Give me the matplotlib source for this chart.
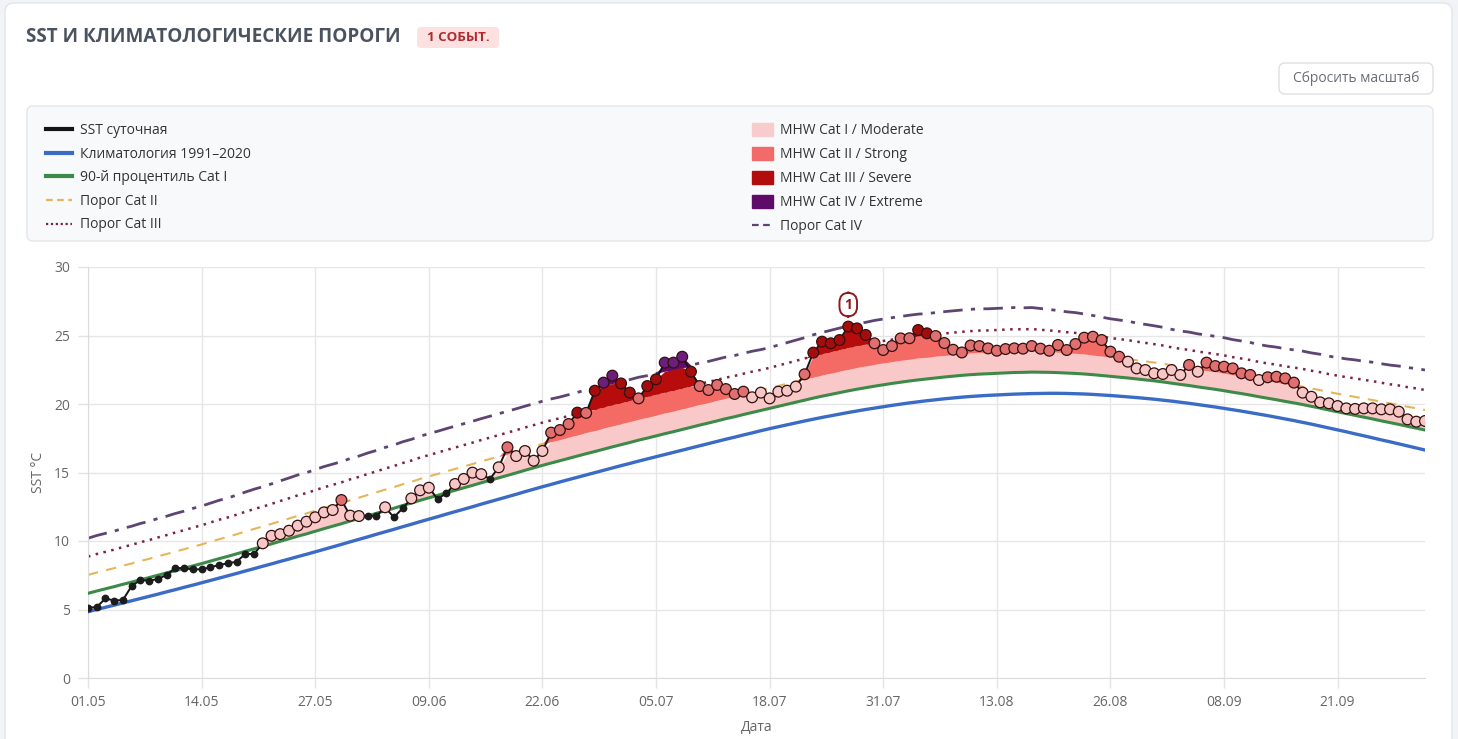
import numpy as np
import pandas as pd
import matplotlib
matplotlib.use("Agg")
import matplotlib.pyplot as plt
import matplotlib.dates as mdates
from matplotlib.patches import FancyBboxPatch, Patch
from matplotlib.lines import Line2D

plt.rcParams["font.family"] = ["Open Sans", "DejaVu Sans"]

# ---- data (daily, 01.05 - 01.10) ----
start_date = "2024-05-01"

sst = [5.13, 5.18, 5.81, 5.65, 5.70, 6.72, 7.15, 7.10, 7.23, 7.52,
       8.05, 8.00, 7.93, 7.93, 8.08, 8.25, 8.37, 8.49, 9.05, 9.05,
       9.83, 10.38, 10.50, 10.75, 11.12, 11.41, 11.73, 12.09, 12.26, 12.99,
       11.85, 11.82, 11.82, 11.82, 12.46, 11.73, 12.38, 13.11, 13.70, 13.89,
       13.07, 13.48, 14.16, 14.53, 14.99, 14.88, 14.53, 15.38, 16.84, 16.20,
       16.57, 15.86, 16.57, 17.91, 18.10, 18.54, 19.37, 19.35, 20.97, 21.56,
       22.07, 21.50, 20.83, 20.41, 21.31, 21.80, 23.02, 23.02, 23.45, 22.36,
       21.31, 21.02, 21.39, 21.09, 20.73, 20.90, 20.49, 20.83, 20.41, 20.90,
       20.97, 21.27, 22.17, 23.75, 24.55, 24.43, 24.67, 25.65, 25.52, 25.04,
       24.43, 23.94, 24.23, 24.79, 24.80, 25.40, 25.16, 24.96, 24.45, 23.96,
       23.76, 24.27, 24.23, 24.06, 23.89, 24.01, 24.06, 24.04, 24.23, 24.04,
       23.89, 24.31, 23.94, 24.38, 24.84, 24.91, 24.67, 23.82, 23.45, 23.09,
       22.60, 22.48, 22.24, 22.19, 22.48, 22.12, 22.85, 22.36, 23.02, 22.77,
       22.72, 22.60, 22.24, 22.12, 21.75, 21.95, 21.99, 21.87, 21.56, 20.83,
       20.53, 20.12, 20.05, 19.85, 19.68, 19.64, 19.68, 19.68, 19.61, 19.61,
       19.44, 18.88, 18.71, 18.76]

clim = [4.84, 5.00, 5.16, 5.32, 5.48, 5.64, 5.80, 5.96, 6.12, 6.29,
        6.45, 6.62, 6.78, 6.95, 7.12, 7.29, 7.46, 7.63, 7.81, 7.98,
        8.16, 8.33, 8.51, 8.68, 8.86, 9.03, 9.21, 9.39, 9.57, 9.75,
        9.94, 10.12, 10.30, 10.49, 10.67, 10.85, 11.04, 11.22, 11.41, 11.59,
        11.77, 11.96, 12.14, 12.32, 12.50, 12.69, 12.87, 13.05, 13.23, 13.41,
        13.60, 13.78, 13.96, 14.13, 14.31, 14.48, 14.65, 14.82, 14.99, 15.16,
        15.33, 15.50, 15.66, 15.83, 15.99, 16.15, 16.31, 16.47, 16.63, 16.79,
        16.95, 17.11, 17.27, 17.43, 17.58, 17.74, 17.89, 18.05, 18.20, 18.34,
        18.48, 18.62, 18.76, 18.89, 19.02, 19.14, 19.26, 19.38, 19.49, 19.60,
        19.70, 19.80, 19.90, 19.99, 20.08, 20.16, 20.24, 20.31, 20.38, 20.44,
        20.50, 20.55, 20.59, 20.63, 20.66, 20.69, 20.72, 20.74, 20.76, 20.77,
        20.78, 20.78, 20.77, 20.75, 20.73, 20.70, 20.66, 20.62, 20.57, 20.52,
        20.47, 20.41, 20.35, 20.28, 20.21, 20.13, 20.05, 19.96, 19.87, 19.78,
        19.68, 19.58, 19.48, 19.37, 19.26, 19.15, 19.03, 18.91, 18.79, 18.66,
        18.53, 18.39, 18.25, 18.11, 17.97, 17.82, 17.68, 17.53, 17.38, 17.24,
        17.09, 16.94, 16.79, 16.64]

p90 = [6.18, 6.35, 6.51, 6.67, 6.84, 7.00, 7.17, 7.33, 7.50, 7.67,
       7.84, 8.01, 8.18, 8.35, 8.53, 8.71, 8.88, 9.06, 9.25, 9.43,
       9.61, 9.79, 9.98, 10.16, 10.35, 10.52, 10.71, 10.90, 11.08, 11.26,
       11.46, 11.64, 11.83, 12.02, 12.21, 12.39, 12.59, 12.77, 12.97, 13.15,
       13.33, 13.52, 13.70, 13.88, 14.06, 14.25, 14.43, 14.61, 14.79, 14.97,
       15.16, 15.34, 15.52, 15.69, 15.86, 16.03, 16.20, 16.37, 16.53, 16.70,
       16.87, 17.03, 17.19, 17.36, 17.51, 17.67, 17.83, 17.98, 18.14, 18.30,
       18.46, 18.61, 18.77, 18.93, 19.07, 19.23, 19.38, 19.53, 19.68, 19.83,
       19.98, 20.13, 20.28, 20.43, 20.57, 20.70, 20.83, 20.96, 21.08, 21.19,
       21.30, 21.40, 21.50, 21.59, 21.68, 21.76, 21.83, 21.90, 21.97, 22.03,
       22.09, 22.14, 22.18, 22.21, 22.24, 22.27, 22.30, 22.31, 22.33, 22.32,
       22.31, 22.29, 22.26, 22.23, 22.19, 22.14, 22.08, 22.02, 21.96, 21.90,
       21.83, 21.76, 21.69, 21.61, 21.52, 21.43, 21.35, 21.25, 21.16, 21.07,
       20.97, 20.86, 20.76, 20.65, 20.53, 20.42, 20.31, 20.19, 20.08, 19.96,
       19.83, 19.70, 19.56, 19.43, 19.30, 19.17, 19.04, 18.91, 18.77, 18.64,
       18.51, 18.37, 18.24, 18.10]

# days flagged as heatwave days (coloured markers), as (first, last) day index
event_spans = [(20, 31), (34, 34), (37, 39), (42, 45), (47, 153)]

# ---- derived ----
dates = pd.date_range(start_date, periods=len(sst), freq="D")
sst = np.array(sst)
clim = np.array(clim)
p90 = np.array(p90)
# Hobday categories: clim + k * (p90 - clim)
cat2 = clim + 2 * (p90 - clim)
cat3 = clim + 3 * (p90 - clim)
cat4 = clim + 4 * (p90 - clim)

ev = np.zeros(len(sst), dtype=bool)
for a, b in event_spans:
    ev[a:b + 1] = True
evf = ev.copy()
evf[1:] |= ev[:-1]
evf[:-1] |= ev[1:]

cat = np.where(sst >= cat4, 4, np.where(sst >= cat3, 3, np.where(sst >= cat2, 2, 1)))

W, H = 1458, 739
fig = plt.figure(figsize=(W / 100, H / 100), dpi=100, facecolor="#f1f3f6")


def box(x, y, w, h, r, fc, ec, lw=1.0):
    p = FancyBboxPatch(((x) / 100, (H - y - h) / 100), w / 100, h / 100,
                       boxstyle="round,pad=0,rounding_size=%f" % (r / 100),
                       transform=fig.dpi_scale_trans, facecolor=fc,
                       edgecolor=ec, linewidth=lw, zorder=-5)
    fig.add_artist(p)


def text(x, y, s, **kw):
    fig.text(x / W, 1 - y / H, s, **kw)


box(5, 3, 1447, 760, 9, "white", "#e2e5ea")

text(26, 37, "SST И КЛИМАТОЛОГИЧЕСКИЕ ПОРОГИ", fontsize=13.6, fontweight="bold",
     color="#4b5360", va="center", ha="left")
box(417, 27, 82, 21, 4, "#fde1e1", "none")
text(458, 37.5, "1 СОБЫТ.", fontsize=9.6, fontweight="bold", color="#b02a30",
     va="center", ha="center")

box(1279, 63, 154, 31, 6, "white", "#dde0e5")
text(1356, 78.5, "Сбросить масштаб", fontsize=10, color="#6a6e75",
     va="center", ha="center")

box(27, 106, 1406, 135, 6, "#f8f9fa", "#e3e6ea")

# ---- plot ----
ax = fig.add_axes([88 / W, (H - 678) / H, (1425 - 88) / W, (678 - 267) / H])
ax.set_facecolor("white")

ax.plot(dates, cat4, color="#5e4473", lw=2.0, ls=(0, (7, 3, 1.5, 3)), zorder=2)
ax.plot(dates, cat3, color="#7a2342", lw=1.8, ls=(0, (1, 2.2)), zorder=2)
ax.plot(dates, cat2, color="#e6b55a", lw=1.5, ls=(0, (5, 4)), zorder=2)

ax.fill_between(dates, p90, np.clip(sst, p90, cat2), where=evf,
                color="#f9c8c8", lw=0, zorder=2.5)
ax.fill_between(dates, cat2, np.clip(sst, cat2, cat3), where=evf,
                color="#f46a64", lw=0, zorder=2.5)
ax.fill_between(dates, cat3, np.clip(sst, cat3, cat4), where=evf,
                color="#b70c0c", lw=0, zorder=2.5)
ax.fill_between(dates, cat4, np.maximum(sst, cat4), where=evf,
                color="#650b6e", lw=0, zorder=2.5)

ax.plot(dates, clim, color="#3a6cc6", lw=2.4, zorder=3)
ax.plot(dates, p90, color="#3c8a48", lw=2.2, zorder=3)

ax.plot(dates, sst, color="#151515", lw=1.4, zorder=5)
ax.plot(dates[~ev], sst[~ev], "o", ms=4.6, color="#1c1c1c", zorder=6)
mcol = {1: "#f6c7c7", 2: "#e06f6f", 3: "#a50d0d", 4: "#6b1e7c"}
ax.scatter(dates[ev], sst[ev], s=60, c=[mcol[k] for k in cat[ev]],
           edgecolors="#331010", linewidths=0.9, zorder=7)

# event label at its peak
ipk = int(np.argmax(np.where(ev, sst, -99)))
ax.annotate("1", (dates[ipk], sst[ipk]), xytext=(0, 22), textcoords="offset pixels",
            ha="center", va="center", fontsize=10, fontweight="bold", color="#8e1b1b",
            bbox=dict(boxstyle="round,pad=0.35,rounding_size=0.7", fc="white",
                      ec="#8e1b1b", lw=1.4), zorder=8)

ax.set_xlim(dates[0], dates[-1])
ax.set_ylim(0, 30)
ax.set_yticks(range(0, 31, 5))
ax.set_xticks(dates[::13])
ax.xaxis.set_major_formatter(mdates.DateFormatter("%d.%m"))
ax.grid(color="#e6e6e6", lw=1)
ax.set_axisbelow(True)
ax.tick_params(colors="#e3e3e3", labelcolor="#666666", labelsize=10, length=7, width=1)
ax.tick_params(axis="y", pad=6)
ax.tick_params(axis="x", pad=5)
for s in ["top", "right"]:
    ax.spines[s].set_visible(False)
for s in ["left", "bottom"]:
    ax.spines[s].set_color("#dcdcdc")

text(38, 472, "SST °C", fontsize=10, color="#666666", rotation=90, va="center", ha="center")
text(757, 727, "Дата", fontsize=10, color="#666666", va="center", ha="center")

# ---- legends ----
h1 = [Line2D([], [], color="#151515", lw=3),
      Line2D([], [], color="#3a6cc6", lw=3),
      Line2D([], [], color="#3c8a48", lw=3),
      Line2D([], [], color="#e6b55a", lw=1.6, ls=(0, (3, 2))),
      Line2D([], [], color="#7a2342", lw=1.6, ls=(0, (1, 1.2)))]
l1 = ["SST суточная", "Климатология 1991–2020", "90-й процентиль Cat I",
      "Порог Cat II", "Порог Cat III"]
h2 = [Patch(fc="#f8cccc", ec="#f8cccc"), Patch(fc="#f26a6a", ec="#f26a6a"),
      Patch(fc="#b30c0c", ec="#b30c0c"), Patch(fc="#5f0b69", ec="#5f0b69"),
      Line2D([], [], color="#5e4473", lw=1.6, ls=(0, (3, 2)))]
l2 = ["MHW Cat I / Moderate", "MHW Cat II / Strong", "MHW Cat III / Severe",
      "MHW Cat IV / Extreme", "Порог Cat IV"]

kw = dict(loc="upper left", frameon=False, fontsize=10, borderpad=0,
          labelspacing=0.62, handletextpad=0.55, bbox_transform=fig.transFigure,
          labelcolor="#333333")
leg1 = fig.legend(h1, l1, bbox_to_anchor=(39 / W, 1 - 116 / H), handlelength=1.9, **kw)
leg2 = fig.legend(h2, l2, bbox_to_anchor=(745 / W, 1 - 116 / H), handlelength=1.5,
                  handleheight=1.1, **kw)

fig.savefig("out.png", dpi=100, facecolor=fig.get_facecolor())
